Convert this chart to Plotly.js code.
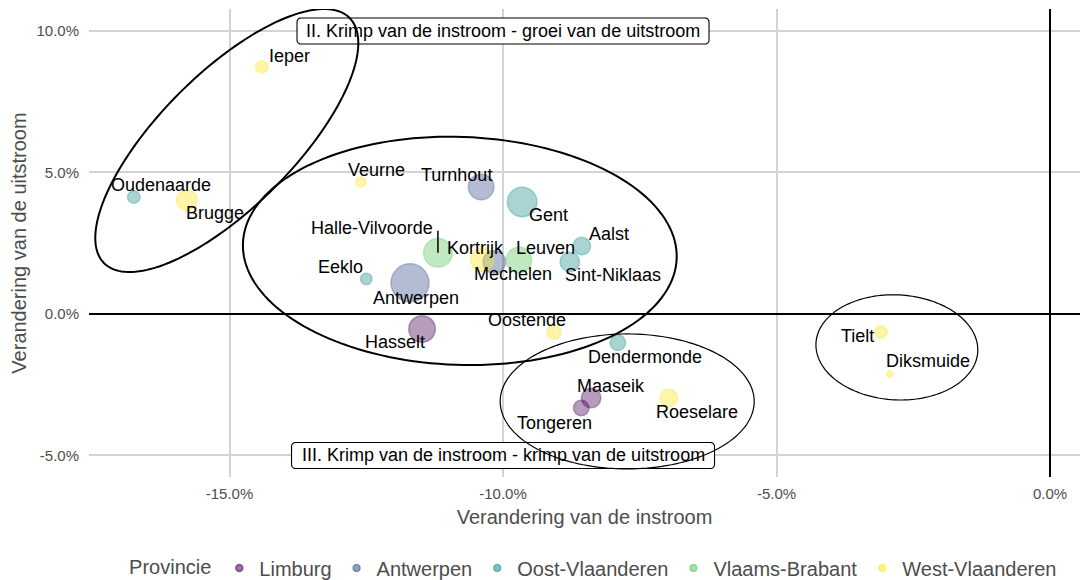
<!DOCTYPE html>
<html><head><meta charset="utf-8">
<script src="https://cdn.plot.ly/plotly-3.0.1.min.js"></script>
<style>html,body{margin:0;padding:0;background:#fff}#chart{width:1086px;height:580px}</style>
</head><body><div id="chart"></div>
<script>
// ---- data ----
const gebieden = ["Ieper","Oudenaarde","Brugge","Veurne","Turnhout","Gent","Halle-Vilvoorde","Kortrijk","Mechelen","Leuven","Aalst","Sint-Niklaas","Eeklo","Antwerpen","Hasselt","Oostende","Dendermonde","Maaseik","Tongeren","Roeselare","Tielt","Diksmuide"];
const provincie = ["West-Vlaanderen","Oost-Vlaanderen","West-Vlaanderen","West-Vlaanderen","Antwerpen","Oost-Vlaanderen","Vlaams-Brabant","West-Vlaanderen","Antwerpen","Vlaams-Brabant","Oost-Vlaanderen","Oost-Vlaanderen","Oost-Vlaanderen","Antwerpen","Limburg","West-Vlaanderen","Oost-Vlaanderen","Limburg","Limburg","West-Vlaanderen","West-Vlaanderen","West-Vlaanderen"];
const instroom = [-14.41,-16.75,-15.78,-12.60,-10.40,-9.65,-11.19,-10.38,-10.16,-9.71,-8.56,-8.78,-12.50,-11.70,-11.48,-9.07,-7.90,-8.39,-8.57,-6.97,-3.09,-2.93];
const uitstroom = [8.73,4.13,4.03,4.66,4.49,3.96,2.16,1.91,1.84,1.91,2.40,1.84,1.24,1.10,-0.53,-0.64,-1.02,-2.97,-3.32,-2.97,-0.64,-2.12];
const omvang = [156,156,420,100,650,870,812,529,506,650,306,380,132,1444,702,210,240,380,240,306,156,42];
const provincies = ["Limburg","Antwerpen","Oost-Vlaanderen","Vlaams-Brabant","West-Vlaanderen"];
const xTickVals = [-15,-10,-5,0];
const xTickText = ["-15.0%","-10.0%","-5.0%","0.0%"];
const yTickVals = [-5,0,5,10];
const yTickText = ["-5.0%","0.0%","5.0%","10.0%"];
const kwadrantTeksten = ["II. Krimp van de instroom - groei van de uitstroom","III. Krimp van de instroom - krimp van de uitstroom"];
const kwadrantX = [-10,-10];
const kwadrantY = [10,-5];

// ---- styling ----
const kleuren = {"Limburg":[68,1,84],"Antwerpen":[59,82,139],"Oost-Vlaanderen":[33,144,140],"Vlaams-Brabant":[93,200,99],"West-Vlaanderen":[253,231,37]};
const rgba = (c,a)=>`rgba(${c[0]},${c[1]},${c[2]},${a})`;
// label offsets in px: [dx, dy(up)]
const labelOffset = {"Ieper":[28,11],"Oudenaarde":[27,12],"Brugge":[28,-13],"Veurne":[16,12],"Turnhout":[-24.5,12],"Gent":[26.5,-13],"Halle-Vilvoorde":[-65.5,25],"Kortrijk":[-7,12],"Mechelen":[19,-12],"Leuven":[26.5,12],"Aalst":[27,12],"Sint-Niklaas":[43,-13],"Eeklo":[-26,12],"Antwerpen":[6,-15],"Hasselt":[-27.5,-13],"Oostende":[-27,12],"Dendermonde":[27.5,-14],"Maaseik":[20,12],"Tongeren":[-27,-15],"Roeselare":[28,-14],"Tielt":[-24,-4],"Diksmuide":[38,13]};

const W = 1086, H = 580;
const mL = 89, mR = 6, mT = 9, mB = 103;
const plotW = W - mL - mR, plotH = H - mT - mB;
const xr = [-17.569, 0.548], yr = [-5.760, 10.777];
const pxX = plotW/(xr[1]-xr[0]), pxY = plotH/(yr[1]-yr[0]);
const FONT = "Liberation Sans, Arial, sans-serif";
const ALPHA = 0.55;

const traces = [];
provincies.forEach(p => {
  const idx = gebieden.map((g,i)=>i).filter(i=>provincie[i]===p);
  traces.push({
    type:'scatter', mode:'markers', name:p, legendgroup:p, showlegend:false,
    x: idx.map(i=>instroom[i]), y: idx.map(i=>uitstroom[i]), text: idx.map(i=>gebieden[i]),
    marker:{size: idx.map(i=>omvang[i]), sizemode:'area', sizeref:2, color: rgba(kleuren[p],ALPHA),
            line:{color: rgba(kleuren[p],ALPHA), width:1.5}},
    hoverinfo:'text'
  });
});
provincies.forEach(p => {
  traces.push({type:'scatter', mode:'markers', name:p, legendgroup:p, showlegend:true,
    x:[null], y:[null], marker:{size:7, color: rgba(kleuren[p],ALPHA), line:{color: rgba(kleuren[p],ALPHA), width:1.5}}});
});

function ellipsePath(cx, cy, a, b, deg) {
  const th = deg*Math.PI/180; let d='';
  for (let i=0;i<=160;i++){ const t=i/160*2*Math.PI;
    const ex = a*Math.cos(t)*Math.cos(th) - b*Math.sin(t)*Math.sin(th);
    const ey = a*Math.cos(t)*Math.sin(th) + b*Math.sin(t)*Math.cos(th);
    d += (i? 'L':'M') + (cx + ex/pxX).toFixed(4) + ',' + (cy - ey/pxY).toFixed(4);
  }
  return d + 'Z';
}
// rounded label box around a data point, size in px
function roundRect(cx, cy, hw, hh, r) {
  const X = px => (cx + px/pxX).toFixed(4), Y = py => (cy - py/pxY).toFixed(4);
  let d = 'M' + X(-hw+r) + ',' + Y(-hh);
  d += 'L' + X(hw-r) + ',' + Y(-hh);
  const arc = (ox, oy, a0) => { let s=''; for (let k=1;k<=6;k++){ const a=a0 + k/6*Math.PI/2; s += 'L' + X(ox + r*Math.cos(a)) + ',' + Y(oy + r*Math.sin(a)); } return s; };
  d += arc(hw-r, -hh+r, -Math.PI/2);
  d += 'L' + X(hw) + ',' + Y(hh-r);
  d += arc(hw-r, hh-r, 0);
  d += 'L' + X(-hw+r) + ',' + Y(hh);
  d += arc(-hw+r, hh-r, Math.PI/2);
  d += 'L' + X(-hw) + ',' + Y(-hh+r);
  d += arc(-hw+r, -hh+r, Math.PI);
  return d + 'Z';
}
const shapes = [];
kwadrantTeksten.forEach((t,i)=>shapes.push({type:'path', xref:'x', yref:'y', layer:'above',
  path: roundRect(kwadrantX[i], kwadrantY[i], i===0 ? 206 : 211.5, 13, 4), fillcolor:'white', line:{color:'black', width:1.1}}));
shapes.push(
  {type:'path', xref:'x', yref:'y', path: ellipsePath(-15.05, 6.13, 173.5, 67, -45), line:{color:'black', width:2}},
  {type:'path', xref:'x', yref:'y', path: ellipsePath(-10.79, 2.23, 217, 114, 2), line:{color:'black', width:2}},
  {type:'path', xref:'x', yref:'y', path: ellipsePath(-7.73, -3.09, 127, 67.5, 0), line:{color:'black', width:1.2}},
  {type:'path', xref:'x', yref:'y', path: ellipsePath(-2.80, -1.18, 81, 52.5, 3), line:{color:'black', width:1.2}}
);
// leader segment Halle-Vilvoorde
const hv = gebieden.indexOf("Halle-Vilvoorde");
shapes.push({type:'line', xref:'x', yref:'y', x0: instroom[hv], x1: instroom[hv], y0: uitstroom[hv], y1: uitstroom[hv] + 22/pxY, line:{color:'black', width:1.5}});

const annotations = gebieden.map((g,i)=>({
  x: instroom[i], y: uitstroom[i], xref:'x', yref:'y', text:g, showarrow:false,
  xshift: labelOffset[g][0], yshift: labelOffset[g][1], font:{family:FONT, size:18, color:'black'}
}));
kwadrantTeksten.forEach((t,i)=>annotations.push({
  x: kwadrantX[i], y: kwadrantY[i], xref:'x', yref:'y', text:t, showarrow:false,
  font:{family:FONT, size:18, color:'black'}
}));

const layout = {
  width:W, height:H, margin:{l:mL, r:mR, t:mT, b:mB, autoexpand:false}, paper_bgcolor:'white', plot_bgcolor:'white',
  font:{family:FONT},
  xaxis:{range:xr, tickvals:xTickVals, ticktext:xTickText, showgrid:true, gridcolor:'#d3d3d3', gridwidth:2,
         zeroline:true, zerolinecolor:'black', zerolinewidth:1.6, ticks:'outside', ticklen:3, tickcolor:'rgba(0,0,0,0)',
         tickfont:{size:15, color:'#4d4d4d'}, showline:false, automargin:false,
         title:{text:'Verandering van de instroom', font:{size:20, color:'#4d4d4d'}, standoff:8}},
  yaxis:{range:yr, tickvals:yTickVals, ticktext:yTickText, showgrid:true, gridcolor:'#d3d3d3', gridwidth:2,
         zeroline:true, zerolinecolor:'black', zerolinewidth:1.6, ticks:'outside', ticklen:6, tickcolor:'rgba(0,0,0,0)',
         tickfont:{size:15, color:'#4d4d4d'}, showline:false, automargin:false,
         title:{text:'Verandering van de uitstroom', font:{size:20, color:'#4d4d4d'}, standoff:4}},
  legend:{orientation:'h', xref:'container', yref:'container', x:0.117, xanchor:'left', y:0.0207, yanchor:'middle',
          font:{size:20, color:'#4d4d4d'},
          title:{text:'Provincie', side:'left', font:{size:20, color:'#4d4d4d'}}, bgcolor:'rgba(0,0,0,0)'},
  shapes, annotations, showlegend:true, hovermode:'closest'
};
Plotly.newPlot('chart', traces, layout, {displayModeBar:false, staticPlot:true});
</script></body></html>
